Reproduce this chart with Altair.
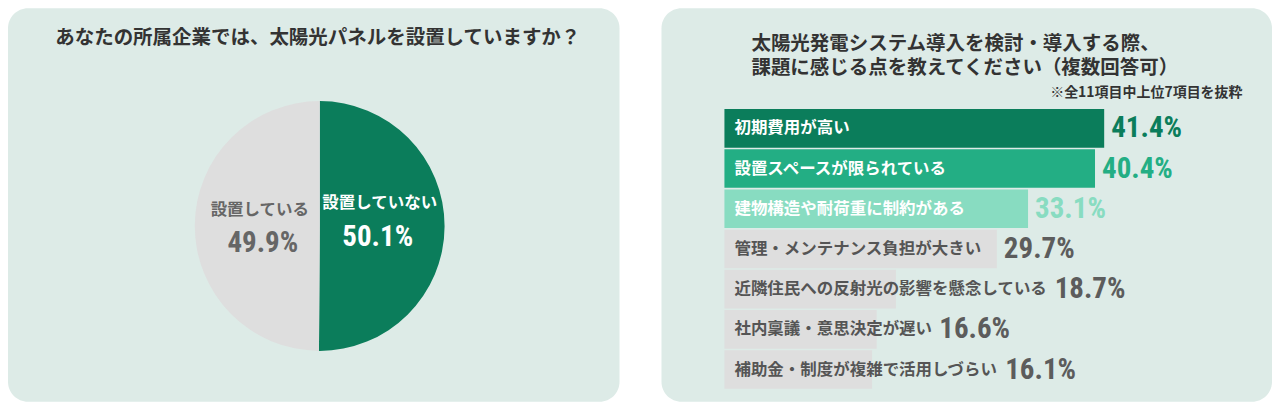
import altair as alt
import pandas as pd

# ---------------- data ----------------
pie_labels = ["設置していない", "設置している"]
pie_values = [50.1, 49.9]

bar_labels = [
    "初期費用が高い",
    "設置スペースが限られている",
    "建物構造や耐荷重に制約がある",
    "管理・メンテナンス負担が大きい",
    "近隣住民への反射光の影響を懸念している",
    "社内稟議・意思決定が遅い",
    "補助金・制度が複雑で活用しづらい",
]
bar_values = [41.4, 40.4, 33.1, 29.7, 18.7, 16.6, 16.1]

left_title = "あなたの所属企業では、太陽光パネルを設置していますか？"
right_title = [
    "太陽光発電システム導入を検討・導入する際、",
    "課題に感じる点を教えてください（複数回答可）",
]
note_text = "※全11項目中上位7項目を抜粋"

# ---------------- styles ----------------
BG = "#ddebe7"
DARK = "#333333"
GREEN = "#0b7d5b"
GREEN2 = "#23ae84"
GREEN3 = "#88dcc1"
GRAY = "#dedede"
GRAYTXT = "#5c5c5c"
JP = "Noto Sans CJK JP"
NUM = "Roboto Condensed, Liberation Sans Narrow, DejaVu Sans Condensed, Roboto, sans-serif"

BAR_COLORS = [GREEN, GREEN2, GREEN3, GRAY, GRAY, GRAY, GRAY]
LABEL_COLORS = ["#ffffff", "#ffffff", "#ffffff", "#555555", "#555555", "#555555", "#555555"]
PCT_COLORS = [GREEN, GREEN2, GREEN3, GRAYTXT, GRAYTXT, GRAYTXT, GRAYTXT]

LEFT_W, RIGHT_W, H = 612, 611, 394
CX, CY, R = 312, 218, 125

PX_START = 63
X_MAX = 50
PX_PER = 9.18
LABEL_PAD = 10
LABEL_FS = 16.5
PCT_FS = 29

# ---------------- left: pie ----------------
pie_df = pd.DataFrame({"label": pie_labels, "value": pie_values,
                       "idx": list(range(len(pie_labels)))})

arc = alt.Chart(pie_df).mark_arc(radius=R).encode(
    theta=alt.Theta("value:Q", stack=True),
    order=alt.Order("idx:Q"),
    color=alt.Color("label:N", scale=alt.Scale(domain=pie_labels, range=[GREEN, GRAY]),
                    legend=None),
    x=alt.value(CX),
    y=alt.value(CY),
)

pie_base = alt.Chart(pie_df).transform_window(
    cum="sum(value)", sort=[alt.SortField("idx")]
).transform_calculate(
    mid="datum.cum - datum.value / 2",
    pct="format(datum.value, '.1f') + '%'",
)


def pie_text(label, field, size, color, dy, font, dx=0):
    return pie_base.transform_filter(alt.datum.label == label).mark_text(
        radius=60, fontSize=size, color=color, dy=dy, dx=dx, font=font,
        fontWeight="bold", align="center", baseline="middle",
    ).encode(
        theta=alt.Theta("mid:Q", stack=False),
        text=alt.Text(f"{field}:N"),
        x=alt.value(CX),
        y=alt.value(CY),
    )


left = alt.layer(
    arc,
    pie_text(pie_labels[0], "label", 16.5, "#ffffff", -23, JP),
    pie_text(pie_labels[0], "pct", PCT_FS, "#ffffff", 11, NUM, -2),
    pie_text(pie_labels[1], "label", 16.5, "#666666", -16, JP),
    pie_text(pie_labels[1], "pct", PCT_FS, "#666666", 17, NUM, 3),
).properties(
    width=LEFT_W, height=H,
    title=alt.TitleParams(left_title, anchor="middle", frame="group", offset=-40,
                          baseline="top", dx=4, fontSize=19.5, font=JP,
                          fontWeight="bold", color=DARK),
)

# ---------------- right: bars ----------------
bar_df = pd.DataFrame({"label": bar_labels, "value": bar_values})
bar_df["pct_x"] = [max(v, (LABEL_PAD + len(l) * LABEL_FS) / PX_PER)
                   for l, v in zip(bar_labels, bar_values)]
bar_df["pct"] = [f"{v:.1f}%" for v in bar_values]

xscale = alt.Scale(domain=[0, X_MAX], range=[PX_START, PX_START + X_MAX * PX_PER])
yscale = alt.Scale(domain=bar_labels, range=[101, 381], paddingInner=0.04, paddingOuter=0)
xaxis = alt.Axis(orient="top", title=note_text, labels=False, ticks=False, domain=False,
                 grid=False, titleX=581, titleY=84, titleAlign="right",
                 titleBaseline="middle", titleFont=JP, titleFontSize=14,
                 titleFontWeight="bold", titleColor=DARK)

bars = alt.Chart(bar_df).mark_bar().encode(
    x=alt.X("value:Q", scale=xscale, axis=xaxis),
    y=alt.Y("label:N", scale=yscale, axis=None),
    color=alt.Color("label:N", scale=alt.Scale(domain=bar_labels, range=BAR_COLORS),
                    legend=None),
)

bar_text = alt.Chart(bar_df).transform_calculate(zero="0").mark_text(
    align="left", baseline="middle", dx=LABEL_PAD, font=JP, fontSize=LABEL_FS,
    fontWeight="bold",
).encode(
    x=alt.X("zero:Q", scale=xscale, axis=xaxis),
    y=alt.Y("label:N", scale=yscale, axis=None),
    text="label:N",
    color=alt.Color("label:N", scale=alt.Scale(domain=bar_labels, range=LABEL_COLORS),
                    legend=None),
)

pct_text = alt.Chart(bar_df).mark_text(
    align="left", baseline="middle", dx=7, font=NUM, fontSize=PCT_FS, fontWeight="bold",
).encode(
    x=alt.X("pct_x:Q", scale=xscale, axis=xaxis),
    y=alt.Y("label:N", scale=yscale, axis=None),
    text="pct:N",
    color=alt.Color("label:N", scale=alt.Scale(domain=bar_labels, range=PCT_COLORS),
                    legend=None),
)

right = alt.layer(bars, bar_text, pct_text).resolve_scale(color="independent").properties(
    width=RIGHT_W, height=H,
    title=alt.TitleParams(right_title, anchor="start", frame="group", offset=-70,
                          baseline="top", dx=90, fontSize=19.5, lineHeight=24, font=JP,
                          fontWeight="bold", color=DARK),
)

chart = alt.hconcat(left, right, spacing=42).properties(
    padding=0, background="white"
).configure_view(
    fill=BG, cornerRadius=20, strokeWidth=0
)

chart.save("out.html", embed_options={"renderer": "svg", "actions": False})
